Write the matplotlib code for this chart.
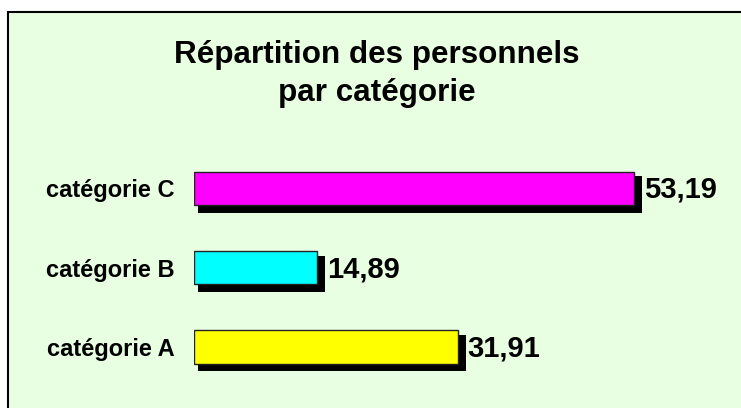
import matplotlib
matplotlib.use("Agg")
import matplotlib.pyplot as plt
from matplotlib.patches import Rectangle

plt.rcParams["font.family"] = ["Liberation Sans", "DejaVu Sans"]

# ── Data ────────────────────────────────────────────────────────────────────
categories = ["catégorie A", "catégorie B", "catégorie C"]
values = [31.91, 14.89, 53.19]
value_labels = ["31,91", "14,89", "53,19"]
bar_colors = ["#FFFF00", "#00FFFF", "#FF00FF"]
title = "Répartition des personnels\npar catégorie"

BG = "#E9FFE1"
W, H = 741, 408

fig = plt.figure(figsize=(W / 100, H / 100), dpi=100)
fig.patch.set_facecolor("white")

# outer chart frame (runs off the right and bottom edges)
fig.patches.append(Rectangle((8 / W, -0.1), 1.2, 1 - 12 / H + 0.1,
                             transform=fig.transFigure, facecolor=BG,
                             edgecolor="black", lw=1.5, zorder=-5))

ax = fig.add_axes([194 / W, 1 - 386.75 / H, 537.6 / W, 238 / H])
ax.set_facecolor("none")
ax.set_xlim(0, 65)
ax.set_ylim(-0.5, 2.5)

px_x = 65 / 537.6    # data units per pixel
px_y = 3 / 238
ys = list(range(len(values)))

# drop shadows
ax.barh([y - 6.2 * px_y for y in ys], [v + 4 * px_x for v in values],
        left=4 * px_x, height=0.42 + 3 * px_y, color="black", zorder=1)
# bars
ax.barh(ys, values, height=0.42, color=bar_colors, edgecolor="#222222",
        lw=1.0, zorder=2)

for y, v, lab in zip(ys, values, value_labels):
    ax.annotate(lab, xy=(v, y), xytext=(7.0, -1), textcoords="offset points",
                ha="left", va="center", fontsize=21, fontweight="bold")

ax.set_yticks(ys)
ax.set_yticklabels(categories, fontsize=17, fontweight="bold")
ax.tick_params(axis="y", length=0, pad=14)
ax.set_xticks([])
for s in ax.spines.values():
    s.set_visible(False)

fig.text(377 / W, 1 - 74 / H, title, ha="center", va="center",
         fontsize=22.6, fontweight="bold", linespacing=1.32)

fig.savefig("out.png", dpi=100)
